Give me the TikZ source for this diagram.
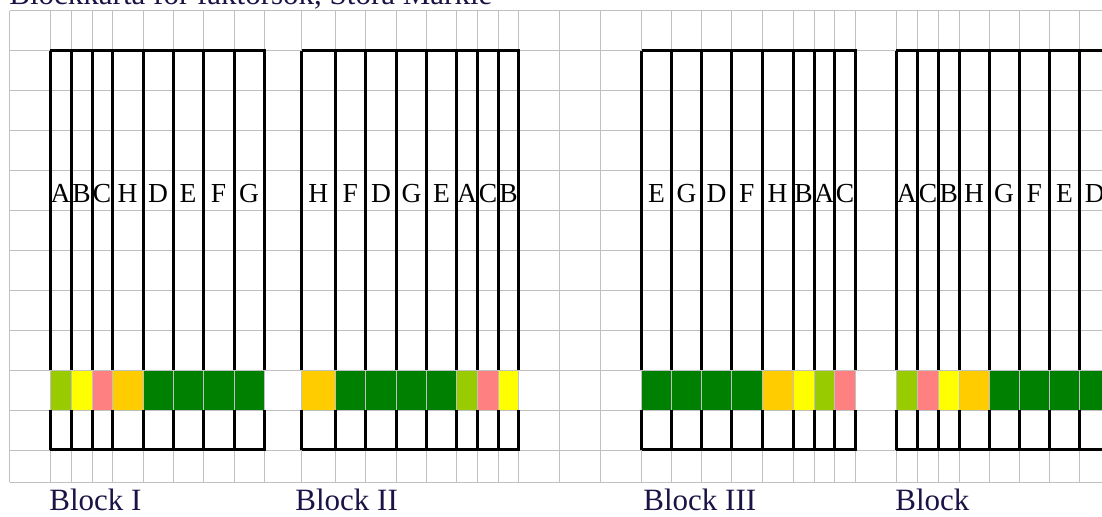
\documentclass[tikz,border=0pt]{standalone}
\usepackage{fontspec}
\setmainfont{Liberation Serif}
\usetikzlibrary{positioning}
\definecolor{gridgray}{HTML}{C0C0C0}
\definecolor{limecell}{HTML}{99CC00}
\definecolor{yellowcell}{HTML}{FFFF00}
\definecolor{pinkcell}{HTML}{FF8080}
\definecolor{orangecell}{HTML}{FFCC00}
\definecolor{greencell}{HTML}{008000}
\definecolor{labelnavy}{HTML}{1A1446}

\begin{document}
\begin{tikzpicture}[x=0.5pt, y=-0.5pt,
  plotline/.style={black, line width=1.5pt},
  gridline/.style={gridgray, line width=0.5pt},
  cell/.style={draw=gridgray, line width=0.5pt},
  factor/.style={font=\fontsize{13.75}{16}\selectfont, inner sep=0pt, anchor=base},
  blocklabel/.style={font=\fontsize{15.5}{18}\selectfont, text=labelnavy, inner sep=0pt, anchor=base west}]
  \useasboundingbox (0,0) rectangle (1102,516);
  \clip (0,0) rectangle (1102,516);
  % background grid
  \foreach \r in {0,...,11} {
    \draw[gridline] (9.5,{10.5+40*\r}) -- (1102,{10.5+40*\r});
  }
  \draw[gridline] (9.5,482) -- (1102,482);
  \foreach \x in {9.5,50,71,92,112,143,173,203,234,264,
                  301.5,335,365.5,396.5,426.5,456.5,477.5,498.5,518.5,559.5,600.5,
                  641.5,671.5,701.5,731.5,762,793,814,834.5,855.5,
                  896,917.5,938.5,959,989,1019,1049.5,1079.5} {
    \draw[gridline] (\x,10.5) -- (\x,482);
  }
  % block I
  \foreach \xa/\xb/\f/\c in {50/71/A/limecell, 71/92/B/yellowcell, 92/112/C/pinkcell,
      112/143/H/orangecell, 143/173/D/greencell, 173/203/E/greencell,
      203/234/F/greencell, 234/264/G/greencell} {
    \draw[cell, fill=\c] (\xa,370) rectangle (\xb,410);
    \draw[plotline] (\xa,50.5) -- (\xa,370) (\xa,410) -- (\xa,449.5);
    \node[factor] (b1-\f) at ({(\xa+\xb)/2},202) {\f};
  }
  \draw[plotline] (50,50.5) -- (264,50.5) -- (264,370) (264,410) -- (264,449.5) -- (50,449.5);
  % block II
  \foreach \xa/\xb/\f/\c in {301.5/335/H/orangecell, 335/365.5/F/greencell,
      365.5/396.5/D/greencell, 396.5/426.5/G/greencell, 426.5/456.5/E/greencell,
      456.5/477.5/A/limecell, 477.5/498.5/C/pinkcell, 498.5/518.5/B/yellowcell} {
    \draw[cell, fill=\c] (\xa,370) rectangle (\xb,410);
    \draw[plotline] (\xa,50.5) -- (\xa,370) (\xa,410) -- (\xa,449.5);
    \node[factor] (b2-\f) at ({(\xa+\xb)/2},202) {\f};
  }
  \draw[plotline] (301.5,50.5) -- (518.5,50.5) -- (518.5,370) (518.5,410) -- (518.5,449.5) -- (301.5,449.5);
  % block III
  \foreach \xa/\xb/\f/\c in {641.5/671.5/E/greencell, 671.5/701.5/G/greencell,
      701.5/731.5/D/greencell, 731.5/762/F/greencell, 762/793/H/orangecell,
      793/814/B/yellowcell, 814/834.5/A/limecell, 834.5/855.5/C/pinkcell} {
    \draw[cell, fill=\c] (\xa,370) rectangle (\xb,410);
    \draw[plotline] (\xa,50.5) -- (\xa,370) (\xa,410) -- (\xa,449.5);
    \node[factor] (b3-\f) at ({(\xa+\xb)/2},202) {\f};
  }
  \draw[plotline] (641.5,50.5) -- (855.5,50.5) -- (855.5,370) (855.5,410) -- (855.5,449.5) -- (641.5,449.5);
  % block IV (runs past the edge)
  \foreach \xa/\xb/\f/\c in {896/917.5/A/limecell, 917.5/938.5/C/pinkcell,
      938.5/959/B/yellowcell, 959/989/H/orangecell, 989/1019/G/greencell,
      1019/1049.5/F/greencell, 1049.5/1079.5/E/greencell, 1079.5/1110/D/greencell} {
    \draw[cell, fill=\c] (\xa,370) rectangle (\xb,410);
    \draw[plotline] (\xa,50.5) -- (\xa,370) (\xa,410) -- (\xa,449.5);
    \node[factor] (b4-\f) at ({(\xa+\xb)/2},202) {\f};
  }
  \draw[plotline] (896,50.5) -- (1110,50.5) (896,449.5) -- (1110,449.5);
  % labels
  \node[blocklabel] (title) at (9,4) {Blockkarta för faktorsök, Stora Markie};
  \node[blocklabel] (lab1) at (49,510) {Block I};
  \node[blocklabel] (lab2) at (295,510) {Block II};
  \node[blocklabel] (lab3) at (643,510) {Block III};
  \node[blocklabel] (lab4) at (895,510) {Block};
\end{tikzpicture}
\end{document}
